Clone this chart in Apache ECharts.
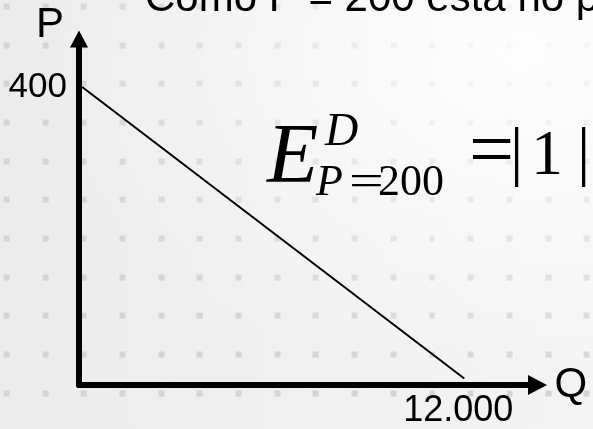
<!DOCTYPE html>
<html>
<head>
<meta charset="utf-8">
<script src="https://cdn.jsdelivr.net/npm/echarts@6/dist/echarts.min.js"></script>
<style>
  html, body { margin: 0; padding: 0; }
  body {
    width: 593px; height: 429px; overflow: hidden;
    background:
      radial-gradient(ellipse at 88% 12%, rgba(255,255,255,0.85), rgba(255,255,255,0) 65%),
      url("data:image/svg+xml,%3Csvg xmlns='http://www.w3.org/2000/svg' width='38.7' height='38.7'%3E%3Crect x='3.5' y='3.5' width='6' height='6' fill='%23d4d4d4'/%3E%3C/svg%3E") 0 0 / 38.7px 38.7px,
      linear-gradient(to right, #ececec, #f4f4f4);
  }
  #chart { width: 593px; height: 429px; }
</style>
</head>
<body>
<div id="chart"></div>
<script>
// demand curve: P = 400 at Q = 0, Q = 12.000 at P = 0
const quantities = [0, 12000];
const prices     = [400, 0];
const qTicks     = [12000];
const qTickText  = ['12.000'];
const pTicks     = [400];
const pTickText  = ['400'];

const SANS  = '"Liberation Sans", Arial, sans-serif';
const SERIF = '"Liberation Serif", "Times New Roman", serif';
const INK   = '#000';

const chart = echarts.init(document.getElementById('chart'));

function serifText(text, x, y, size, italic, scaleX) {
  return {
    type: 'text', x, y, scaleX: scaleX || 1, silent: true,
    style: {
      text, fill: INK, font: (italic ? 'italic ' : '') + size + 'px ' + SERIF,
      verticalAlign: 'middle',
    },
  };
}

chart.setOption({
  backgroundColor: 'transparent',
  animation: false,
  grid: { left: 79, right: 55.5, top: 39, bottom: 43.5 },
  xAxis: {
    type: 'value', min: -100, max: 14300,
    name: 'Q', nameLocation: 'end', nameGap: 17,
    nameTextStyle: { color: INK, fontSize: 42, fontFamily: SANS },
    axisLine: {
      onZero: false, symbol: ['none', 'triangle'], symbolSize: [20, 19],
      lineStyle: { color: INK, width: 6 },
    },
    axisTick: { show: false },
    splitLine: { show: false },
    axisLabel: {
      customValues: qTicks,
      formatter: v => qTickText[qTicks.indexOf(v)],
      color: INK, fontSize: 36, fontFamily: SANS, margin: 8,
      padding: [0, 12, 0, 0],
    },
  },
  yAxis: {
    type: 'value', min: -9, max: 466,
    name: 'P', nameLocation: 'end', nameGap: 14,
    nameTextStyle: {
      color: INK, fontSize: 42, fontFamily: SANS,
      align: 'right', verticalAlign: 'middle', padding: [0, 15, 0, 0],
    },
    axisLine: {
      show: true, onZero: false, symbol: ['none', 'triangle'], symbolSize: [18, 17],
      lineStyle: { color: INK, width: 6 },
    },
    axisTick: { show: false },
    splitLine: { show: false },
    axisLabel: {
      customValues: pTicks,
      formatter: v => pTickText[pTicks.indexOf(v)],
      color: INK, fontSize: 35, fontFamily: SANS, margin: 12,
    },
  },
  series: [{
    type: 'line',
    data: quantities.map((q, i) => [q, prices[i]]),
    symbol: 'none', silent: true,
    lineStyle: { color: INK, width: 2 },
  }],
  graphic: [
    {
      type: 'text', x: 145, y: -1, silent: true,
      style: {
        text: 'Como P = 200 está no p', fill: INK,
        font: '42px ' + SANS, verticalAlign: 'middle',
      },
    },
    serifText('E', 267, 160, 84, true),
    serifText('D', 325, 133, 46, true),
    serifText('P', 316, 183, 44, true),
    serifText('=', 349, 183, 44, false, 1.4),
    serifText('200', 378, 183, 44, false),
    serifText('=', 469, 155, 80, false),
    serifText('|', 510, 156, 66, false),
    serifText('1', 531, 157, 64, false),
    serifText('|', 577, 156, 66, false),
  ],
});
</script>
</body>
</html>
